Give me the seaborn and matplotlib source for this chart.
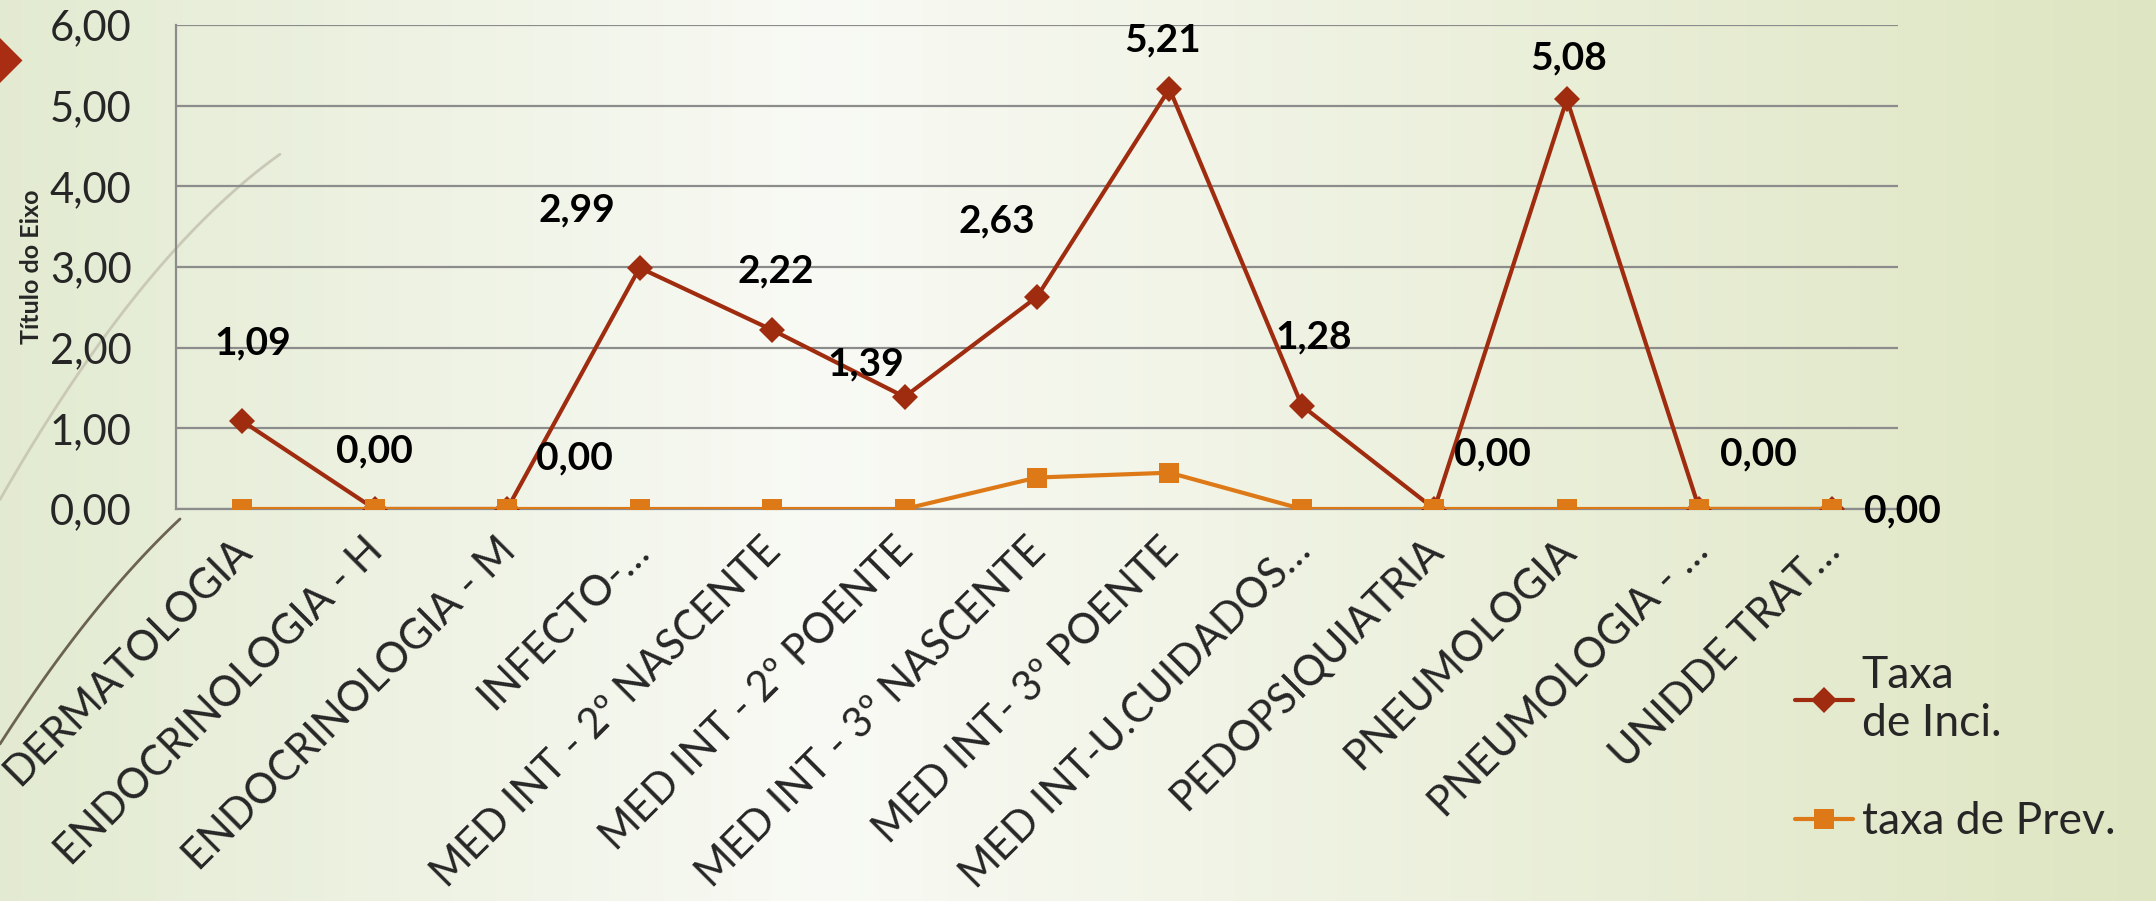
import numpy as np
import pandas as pd
import matplotlib
matplotlib.use("Agg")
import matplotlib.pyplot as plt
from matplotlib.transforms import ScaledTranslation
import seaborn as sns

categories = ["DERMATOLOGIA", "ENDOCRINOLOGIA - H", "ENDOCRINOLOGIA - M", "INFECTO-…",
              "MED INT - 2º NASCENTE", "MED INT - 2º POENTE", "MED INT - 3º NASCENTE",
              "MED INT- 3º POENTE", "MED INT-U.CUIDADOS…", "PEDOPSIQUIATRIA",
              "PNEUMOLOGIA", "PNEUMOLOGIA - …", "UNIDDE TRAT…"]
incidencia = [1.09, 0.00, 0.00, 2.99, 2.22, 1.39, 2.63, 5.21, 1.28, 0.00, 5.08, 0.00, 0.00]
prevalencia = [0.00, 0.00, 0.00, 0.00, 0.00, 0.00, 0.39, 0.45, 0.00, 0.00, 0.00, 0.00, 0.00]
yticks = [0, 1, 2, 3, 4, 5, 6]
# label offsets (category units, data units) relative to each incidence point
label_dx = [0.08, 0.0, 0.51, -0.47, 0.03, -0.29, -0.30, -0.05, 0.09, 0.44, 0.01, 0.45, 0.53]
label_dy = [0.97, 0.72, 0.63, 0.72, 0.73, 0.41, 0.94, 0.61, 0.85, 0.68, 0.51, 0.68, -0.03]

sns.set_theme(style="white")
plt.rcParams['font.family'] = ['Lato', 'DejaVu Sans']

W, H = 2156, 901
fig = plt.figure(figsize=(W / 100, H / 100), dpi=100)

# background gradient
bg = fig.add_axes([0, 0, 1, 1], zorder=-10)
xs = np.linspace(0, 1, 400)
c_left = np.array([0.89, 0.92, 0.82])
c_mid = np.array([0.975, 0.98, 0.96])
c_right = np.array([0.87, 0.90, 0.76])
cols = np.empty((1, 400, 3))
for i, t in enumerate(xs):
    if t < 0.38:
        f = t / 0.38
        cols[0, i] = c_left * (1 - f) + c_mid * f
    else:
        f = (t - 0.38) / 0.62
        cols[0, i] = c_mid * (1 - f) + c_right * f
bg.imshow(cols, aspect='auto', extent=[0, W, H, 0])
# decorative arcs (pixel space)
gx = [0, 83, 177, 280]; gy = [504, 355, 258, 151]
pg = np.polyfit(gx, gy, 2)
xx = np.linspace(0, 280, 100)
bg.plot(xx, np.polyval(pg, xx), color='#c9c9b5', lw=2)
dxp = [0, 117, 180]; dyp = [744, 585, 519]
pd_ = np.polyfit(dxp, dyp, 2)
xx2 = np.linspace(0, 180, 100)
bg.plot(xx2, np.polyval(pd_, xx2), color='#6b6350', lw=2)
bg.scatter([-4], [60], marker='D', s=700, color='#a82d12', linewidths=0)
bg.set_xlim(0, W); bg.set_ylim(H, 0)
bg.axis('off')

ax = fig.add_axes([176 / W, 1 - 509 / H, (1898 - 176) / W, (509 - 25) / H])
ax.patch.set_alpha(0)

x = np.arange(len(categories))
df_i = pd.DataFrame({"x": x, "v": incidencia})
df_p = pd.DataFrame({"x": x, "v": prevalencia})
sns.lineplot(data=df_i, x="x", y="v", ax=ax, color='#a02c10', lw=3.0, marker='D',
             markersize=13, markeredgewidth=0, label="Taxa\nde Inci.", zorder=3)
sns.lineplot(data=df_p, x="x", y="v", ax=ax, color='#dd7a17', lw=3.0, marker='s',
             markersize=14, markeredgewidth=0, label="taxa de Prev.", zorder=4)

for i, v in enumerate(incidencia):
    ax.text(i + label_dx[i], v + label_dy[i], f"{v:.2f}".replace('.', ','),
            ha='center', va='center', fontsize=28, fontweight='bold', color='black',
            zorder=6, clip_on=False)

ax.set_xlim(-0.5, len(categories) - 0.5)
ax.set_ylim(0, 6)
ax.set_yticks(yticks)
ax.set_yticklabels([f"{t:.2f}".replace('.', ',') for t in yticks], fontsize=30)
ax.set_xticks(x)
ax.set_xticklabels(categories, rotation=45, ha='right', va='top', rotation_mode='anchor',
                   fontsize=30)
ax.tick_params(axis='x', length=0, pad=16)
ax.tick_params(axis='y', length=0, pad=32)
offs = ScaledTranslation(-0.11, 0, fig.dpi_scale_trans)
for lab in ax.get_xticklabels():
    lab.set_transform(lab.get_transform() + offs)
ax.grid(axis='y', color='#8c8c8c', lw=1.6)
ax.set_axisbelow(True)
for s in ['top', 'right']:
    ax.spines[s].set_visible(False)
ax.spines['left'].set_color('#8c8c8c')
ax.spines['left'].set_linewidth(1.6)
ax.spines['bottom'].set_color('#8c8c8c')
ax.spines['bottom'].set_linewidth(1.6)
ax.set_xlabel("")
ax.set_ylabel("Título do Eixo", fontsize=18, fontweight='bold')
ax.yaxis.set_label_coords((43 - 176) / (1898 - 176), 0.5)

leg = ax.legend(loc='upper left', bbox_to_anchor=(1795 / W, 1 - 655 / H),
                bbox_transform=fig.transFigure, frameon=False, borderpad=0,
                borderaxespad=0, fontsize=32, handlelength=1.3, labelspacing=1.3,
                handletextpad=0.2)

fig.savefig("out.png", dpi=100)
